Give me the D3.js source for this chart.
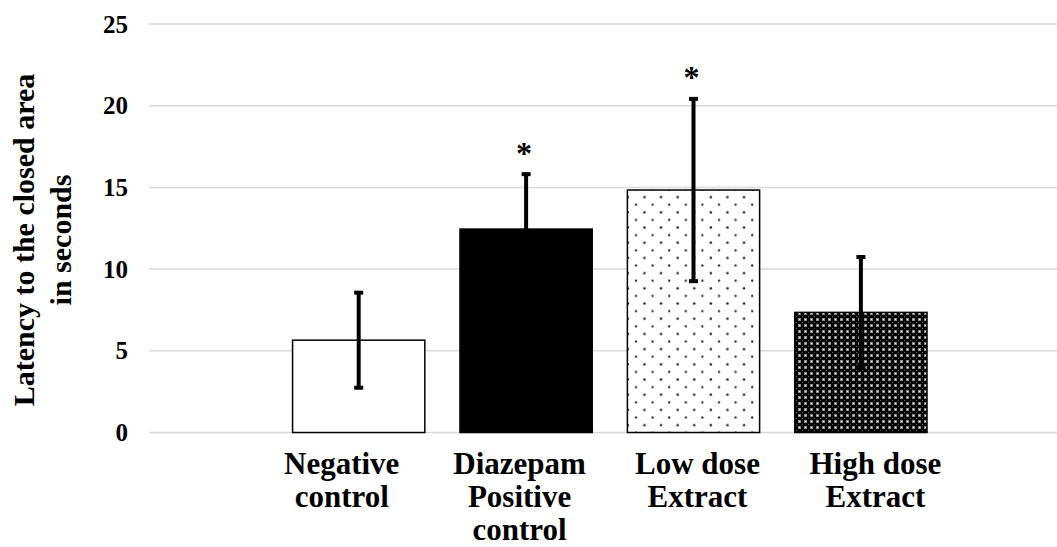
<!DOCTYPE html>
<html>
<head>
<meta charset="utf-8">
<script src="https://cdn.jsdelivr.net/npm/d3@7/dist/d3.min.js"></script>
<style>
  html, body { margin: 0; padding: 0; background: #fff; }
  svg { display: block; }
  text { font-family: "Liberation Serif", "Times New Roman", serif; font-weight: bold; fill: #000; }
</style>
</head>
<body>
<svg id="chart" width="1057" height="547"></svg>
<script>
// ---- Data ----
const categories = [
  ["Negative", "control"],
  ["Diazepam", "Positive", "control"],
  ["Low dose", "Extract"],
  ["High dose", "Extract"]
];
const means = [5.65, 12.45, 14.84, 7.35];
const errors = [3.0, 3.45, 5.67, 3.48];
const significant = [false, true, true, false];
const yTicks = [0, 5, 10, 15, 20, 25];
const yTitle = ["Latency to the closed area", "in seconds"];

// ---- Layout ----
const svg = d3.select("#chart");
const yTop = 24, yBottom = 432.5;
const gridLeft = 149, gridRight = 1057;

const x = d3.scaleBand()
  .domain(d3.range(categories.length))
  .range([275, 944.6])
  .paddingInner(0.21)
  .paddingOuter(0.105);

// label positions (spaced slightly wider than the bars in the reference)
const xl = d3.scaleBand()
  .domain(d3.range(categories.length))
  .range([252.75, 964.35]);

const y = d3.scaleLinear().domain([0, 25]).range([yBottom, yTop]);

// ---- Patterns ----
const defs = svg.append("defs");
const dots = defs.append("pattern")
  .attr("id", "dots").attr("patternUnits", "userSpaceOnUse")
  .attr("width", 16.6).attr("height", 15.2)
  .attr("x", 628).attr("y", 190);
dots.append("rect").attr("width", 16.6).attr("height", 15.2).attr("fill", "#fff");
dots.append("circle").attr("cx", 16.3).attr("cy", 7.2).attr("r", 1.15).attr("fill", "#222");
dots.append("circle").attr("cx", 8).attr("cy", 14.8).attr("r", 1.15).attr("fill", "#222");
dots.append("circle").attr("cx", 8).attr("cy", -0.4).attr("r", 1.15).attr("fill", "#222");
dots.append("circle").attr("cx", 0.0).attr("cy", 7.2).attr("r", 1.15).attr("fill", "#222");

const cross = defs.append("pattern")
  .attr("id", "cross").attr("patternUnits", "userSpaceOnUse")
  .attr("width", 6).attr("height", 6);
cross.append("rect").attr("width", 6).attr("height", 6).attr("fill", "#000");
cross.append("rect").attr("x", 0).attr("y", 0).attr("width", 3).attr("height", 3).attr("fill", "#8c8c8c");
cross.append("rect").attr("x", 1).attr("y", 1).attr("width", 1).attr("height", 1).attr("fill", "#fff");
cross.append("rect").attr("x", 4).attr("y", 4).attr("width", 1).attr("height", 1).attr("fill", "#666");

const fills = ["#fff", "#000", "url(#dots)", "url(#cross)"];

// ---- Gridlines ----
svg.append("g").selectAll("line")
  .data(yTicks).join("line")
  .attr("x1", gridLeft).attr("x2", gridRight)
  .attr("y1", d => y(d)).attr("y2", d => y(d))
  .attr("stroke", "#d9d9d9").attr("stroke-width", 1.5);

// ---- Y axis tick labels ----
const yAxis = d3.axisLeft(y).tickValues(yTicks).tickSize(0).tickPadding(0);
const ya = svg.append("g").attr("transform", "translate(128,0)").call(yAxis);
ya.select(".domain").remove();
ya.selectAll("text")
  .style("font-family", '"Liberation Serif", "Times New Roman", serif')
  .style("font-weight", "bold")
  .style("font-size", "25px")
  .attr("fill", "#000");

// ---- Y title ----
const yt = svg.append("text")
  .attr("transform", "translate(34,240) rotate(-90)")
  .attr("text-anchor", "middle")
  .style("font-size", "30px");
yt.append("tspan").attr("x", 0).attr("y", 0).text(yTitle[0]);
yt.append("tspan").attr("x", 0).attr("y", 37).text(yTitle[1]);

// ---- Bars ----
svg.append("g").selectAll("rect")
  .data(means).join("rect")
  .attr("x", (d, i) => x(i))
  .attr("width", x.bandwidth())
  .attr("y", d => y(d))
  .attr("height", d => y(0) - y(d))
  .attr("fill", (d, i) => fills[i])
  .attr("stroke", "#000")
  .attr("stroke-width", 1.5);

// ---- Error bars ----
const eb = svg.append("g").attr("stroke", "#000").attr("stroke-width", 4);
means.forEach((m, i) => {
  const cx = x(i) + x.bandwidth() / 2;
  const hi = y(m + errors[i]), lo = y(m - errors[i]);
  eb.append("line").attr("x1", cx).attr("x2", cx).attr("y1", hi).attr("y2", lo);
  eb.append("line").attr("x1", cx - 4.5).attr("x2", cx + 4.5).attr("y1", hi + 1.5).attr("y2", hi + 1.5);
  eb.append("line").attr("x1", cx - 4.5).attr("x2", cx + 4.5).attr("y1", lo - 1.5).attr("y2", lo - 1.5);
});

// ---- Significance asterisks ----
svg.append("g").selectAll("text")
  .data(means.map((m, i) => ({ m, i })).filter(d => significant[d.i])).join("text")
  .attr("x", d => x(d.i) + x.bandwidth() / 2 - 2)
  .attr("y", d => y(d.m + errors[d.i]) - 9)
  .attr("text-anchor", "middle")
  .style("font-size", "32px")
  .text("*");

// ---- X labels ----
svg.append("g").selectAll("text")
  .data(categories).join("text")
  .attr("text-anchor", "middle")
  .style("font-size", "31px")
  .each(function (lines, i) {
    const t = d3.select(this);
    const cx = xl(i) + xl.bandwidth() / 2;
    lines.forEach((ln, k) => {
      t.append("tspan").attr("x", cx).attr("y", 474 + k * 33).text(ln);
    });
  });
</script>
</body>
</html>
